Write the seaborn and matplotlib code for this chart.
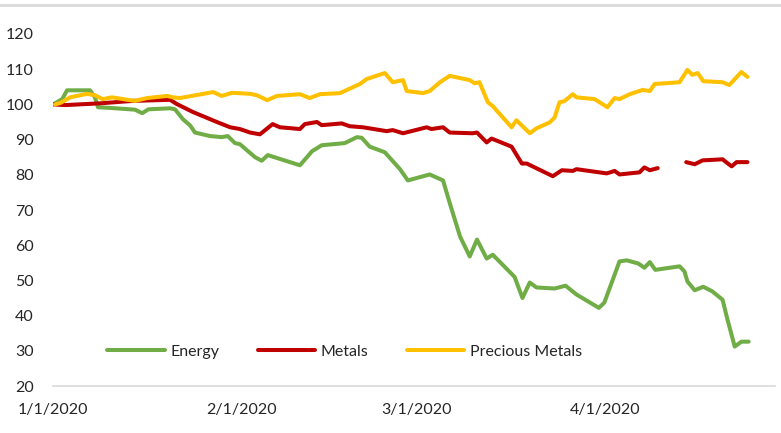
import pandas as pd
import matplotlib.pyplot as plt
import matplotlib.dates as mdates
from matplotlib.lines import Line2D
import seaborn as sns

# days after 1/1/2020 and index level
energy_days = [0, 1.5, 2.3, 6.1, 6.9, 7.4, 9.4, 12.7, 13.5, 14.7, 15.7, 19.3, 20.1, 21.4,
               22.6, 23.4, 25.9, 27.8, 28.8, 30, 30.8, 33.3, 34.4, 35.4, 40.7, 42.7, 44.3,
               48.1, 50.1, 50.9, 52.2, 54.7, 57.2, 58.5, 62.1, 64.3, 65.4, 67.1, 68.7, 69.9,
               71.5, 72.5, 76.1, 77.4, 78.6, 79.7, 82.7, 84.5, 86.3, 90, 90.9, 93.4, 94.6,
               96.5, 97.5, 98.4, 99.3, 103.3, 104.1, 104.6, 105.8, 107.2, 108.7, 110.4,
               111.2, 112.4, 113.5, 114.7]
energy = [100, 101.5, 104, 104, 102, 99.2, 99, 98.6, 98.5, 97.5, 98.6, 98.9, 98.6, 95.8,
          94, 92, 91, 90.7, 91, 89, 88.7, 85, 84, 85.6, 82.7, 86.7, 88.4,
          89, 90.7, 90.5, 88, 86.4, 81.6, 78.4, 80.1, 78.4, 72, 62.5, 56.8, 61.6,
          56.2, 57.3, 51, 45, 49.4, 48, 47.7, 48.5, 46, 42.2, 43.7, 55.4, 55.7,
          54.8, 53.6, 55.2, 53, 54, 52.6, 49.7, 47.2, 48.2, 46.9, 44.5,
          38.9, 31.2, 32.6, 32.6]

metals_days = [0, 2, 7.7, 13.2, 19.3, 20.4, 23.1, 27, 29.2, 30.8, 32.5, 34.1, 36.2, 37.4,
               40.7, 41.5, 43.5, 44.3, 47.6, 48.9, 51.1, 55, 56, 57.7, 61.6, 62.4, 64.3,
               65.4, 69.2, 69.9, 71.5, 72.3, 75.6, 77.3, 78.1, 82.4, 83.9, 85.7, 86.3,
               91.3, 92.6, 93.4, 96.7, 97.5, 98.4, 99.7,
               104.4, 105.8, 107.1, 110.4, 111.2, 111.9, 112.7, 114.5]
metals = [100, 99.8, 100.3, 101, 101.3, 100.1, 97.8, 95, 93.5, 93, 92, 91.5, 94.4, 93.5,
          93, 94.4, 95, 94.1, 94.6, 93.8, 93.5, 92.4, 92.7, 91.8, 93.5, 93, 93.5,
          92, 91.8, 92, 89.2, 90.3, 88, 83.2, 83.2, 79.6, 81.3, 81.1, 81.6,
          80.4, 81.1, 80.1, 80.7, 82.1, 81.3, 81.9,
          83.6, 83, 84.1, 84.4, 83.3, 82.4, 83.6, 83.6]
# metals has no values over the Easter holidays
metals_part = [0] * 46 + [1] * 8

precious_days = [0.3, 1.2, 2.8, 5.6, 6.9, 8.2, 9.7, 12.7, 13.5, 15.5, 18.8, 19.8, 20.9,
                 26.4, 27.8, 29.5, 32.5, 33.6, 35.3, 36.9, 40.7, 42.3, 44, 47.3, 50.6,
                 51.7, 54.7, 56, 57.7, 58.3, 61, 62.1, 63.8, 65.4, 68.7, 69.5, 70.3,
                 71.7, 72.5, 75.6, 76.4, 78.6, 79.7, 81.9, 82.7, 83.5, 84.3, 85.7, 86.3,
                 89.3, 91.4, 92.6, 93.4, 95.1, 97.2, 98.4, 99.2, 103.3, 104.6, 105.4,
                 106.3, 107.2, 110.4, 111.5, 113.5, 114.5]
precious = [100, 100.4, 102, 103, 102.6, 101.5, 102, 101.2, 101, 101.8, 102.4, 102, 101.8,
            103.5, 102.4, 103.3, 103, 102.6, 101.2, 102.4, 102.9, 101.8, 102.9, 103.2, 105.8,
            107.2, 108.9, 106.3, 106.9, 103.8, 103.2, 103.8, 106.3, 108.1, 106.9, 106, 106.3,
            100.6, 99.5, 93.5, 95.5, 91.8, 93.2, 94.9, 96.3, 100.6, 100.9, 102.9, 102,
            101.5, 99.2, 101.8, 101.5, 102.9, 104.1, 103.8, 105.8, 106.3, 109.8, 108.4,
            108.9, 106.6, 106.3, 105.5, 109.2, 107.8]

series_names = ["Energy", "Metals", "Precious Metals"]
colors = ["#70AD47", "#C00000", "#FFC000"]

start = pd.Timestamp("2020-01-01")
frames = [
    pd.DataFrame({"days": energy_days, "value": energy, "series": "Energy", "part": 0}),
    pd.DataFrame({"days": metals_days, "value": metals, "series": "Metals", "part": metals_part}),
    pd.DataFrame({"days": precious_days, "value": precious, "series": "Precious Metals", "part": 0}),
]
df = pd.concat(frames, ignore_index=True)
df["date"] = start + pd.to_timedelta(df["days"], unit="D")

sns.set_style("white")
plt.rcParams["font.family"] = ["Lato", "DejaVu Sans"]

fig = plt.figure(figsize=(7.81, 4.33), dpi=100)
ax = fig.add_axes([0.068, 0.1085, 0.924, 0.813])

sns.lineplot(data=df, x="date", y="value", hue="series", units="part", estimator=None,
             hue_order=series_names, palette=colors, linewidth=2.9, ax=ax,
             solid_joinstyle="round", solid_capstyle="round")

ax.set_ylim(20, 120)
ax.set_yticks(range(20, 121, 10))
ax.set_xlim(start, pd.Timestamp("2020-04-29"))
ax.xaxis.set_major_locator(mdates.MonthLocator())
ax.xaxis.set_major_formatter(plt.FuncFormatter(
    lambda v, p: "{d.month}/{d.day}/{d.year}".format(d=mdates.num2date(v))))
ax.set_xlabel("")
ax.set_ylabel("")

for s in ["top", "right", "left"]:
    ax.spines[s].set_visible(False)
ax.spines["bottom"].set_color("#d9d9d9")
ax.spines["bottom"].set_linewidth(1.2)
ax.tick_params(axis="x", which="major", direction="out", length=6, color="#d9d9d9",
               width=1.2, labelsize=11.5, labelcolor="#262626", pad=6)
ax.tick_params(axis="y", length=0, labelsize=11.5, labelcolor="#262626", pad=14)

handles, labels = ax.get_legend_handles_labels()
ax.legend(handles, labels, loc="center", bbox_to_anchor=(0.404, 0.097), ncol=3,
          frameon=False, fontsize=11.5, handlelength=3.6, handletextpad=0.35,
          columnspacing=2.4, labelcolor="#262626")

fig.add_artist(Line2D([0, 1], [0.988, 0.988], color="#d9d9d9", linewidth=2,
                      transform=fig.transFigure))

plt.savefig("out.png", dpi=100)
